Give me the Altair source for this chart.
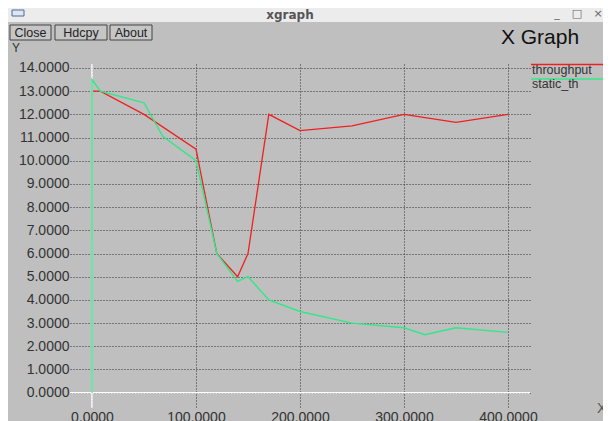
import altair as alt
import pandas as pd

# ---- data ----
thr_x = [0, 0, 8, 50, 100, 120, 140, 150, 170, 200, 250, 300, 350, 400]
thr_y = [6.6, 13.0, 13.0, 12.0, 10.5, 6.0, 5.0, 6.0, 12.0, 11.3, 11.5, 12.0, 11.65, 12.0]

sta_x = [0, 0, 8, 50, 68, 100, 120, 140, 150, 170, 200, 250, 300, 320, 350, 400]
sta_y = [0.0, 13.5, 13.0, 12.5, 11.05, 10.0, 6.0, 4.8, 5.0, 4.0, 3.5, 3.0, 2.8, 2.5, 2.8, 2.6]

x_ticks = [0, 100, 200, 300, 400]
y_ticks = list(range(0, 15))
series_names = ["throughput", "static_th"]
series_colors = ["#f02020", "#30e888"]

FONT = "Liberation Sans"
BG = "#bfbfbf"

thr = pd.DataFrame({"x": thr_x, "y": thr_y, "i": range(len(thr_x))})
sta = pd.DataFrame({"x": sta_x, "y": sta_y, "i": range(len(sta_x))})
zero = pd.DataFrame({"v": [0]})
one = pd.DataFrame({"a": [0]})

xscale = alt.Scale(domain=[-21.15, 421.15], nice=False, zero=False)
yscale = alt.Scale(domain=[-0.66, 14.17], nice=False, zero=False)

common = dict(title=None, domain=False, ticks=False, grid=True, gridColor="#2e2e2e",
              gridDash=[1, 2], gridWidth=1, labelFont=FONT, labelFontSize=14,
              labelColor="#333333", labelOverlap=False, labelFlush=False)
xaxis = alt.Axis(values=x_ticks, format=".4f", labelPadding=2, labelBaseline="top", **common)
yaxis = alt.Axis(values=y_ticks, format=".4f", labelPadding=1, **common)

# axes / grid layer
base = alt.Chart(thr).mark_point(opacity=0).encode(
    x=alt.X("x:Q", scale=xscale, axis=xaxis),
    y=alt.Y("y:Q", scale=yscale, axis=yaxis),
)

zero_h = alt.Chart(zero).mark_rule(color="white", strokeWidth=1.5).encode(
    y=alt.Y("v:Q", scale=yscale, axis=yaxis))
zero_v = alt.Chart(zero).mark_rule(color="white", strokeWidth=1.5).encode(
    x=alt.X("v:Q", scale=xscale, axis=xaxis))

line_thr = alt.Chart(thr).mark_line(color=series_colors[0], strokeWidth=1.3).encode(
    x=alt.X("x:Q", scale=xscale, axis=xaxis), y=alt.Y("y:Q", scale=yscale, axis=yaxis),
    order="i:Q")
line_sta = alt.Chart(sta).mark_line(color=series_colors[1], strokeWidth=1.4).encode(
    x=alt.X("x:Q", scale=xscale, axis=xaxis), y=alt.Y("y:Q", scale=yscale, axis=yaxis),
    order="i:Q")

# legend (xgraph style: line above the name)
leg = []
for k, (name, col) in enumerate(zip(series_names, series_colors)):
    leg.append(alt.Chart(one).mark_rule(color=col, strokeWidth=1.5).encode(
        x=alt.value(461), x2=alt.value(540), y=alt.value(0.5 + 14.5 * k)))
    leg.append(alt.Chart(one).mark_text(text=name, align="left", baseline="middle",
                                        font=FONT, fontSize=12.5, color="#333333").encode(
        x=alt.value(462), y=alt.value(6 + 14 * k)))

# window decorations
deco = []
deco.append(alt.Chart(one).mark_rect(fill="#ececec").encode(
    x=alt.value(-62), x2=alt.value(540), y=alt.value(-56), y2=alt.value(-42)))
deco.append(alt.Chart(one).mark_rect(fill="#dfe6f0", stroke="#4a6a9a", strokeWidth=1).encode(
    x=alt.value(-58), x2=alt.value(-46), y=alt.value(-54), y2=alt.value(-48)))
deco.append(alt.Chart(one).mark_text(text="xgraph", font="DejaVu Sans", fontWeight="bold",
                                     fontSize=12, color="#555555", baseline="middle").encode(
    x=alt.value(220), y=alt.value(-49)))
for t, xv in [("_", 487), ("□", 507), ("×", 528)]:
    deco.append(alt.Chart(one).mark_text(text=t, font="DejaVu Sans", fontSize=11,
                                         color="#666666", baseline="middle").encode(
        x=alt.value(xv), y=alt.value(-50)))
for t, x1, x2 in [("Close", -60, -19), ("Hdcpy", -15, 37), ("About", 40, 82)]:
    deco.append(alt.Chart(one).mark_rect(fill="#c6c6c6", stroke="#444444", strokeWidth=1).encode(
        x=alt.value(x1), x2=alt.value(x2), y=alt.value(-39), y2=alt.value(-24)))
    deco.append(alt.Chart(one).mark_text(text=t, font=FONT, fontSize=12.5, color="#222222",
                                         baseline="middle").encode(
        x=alt.value((x1 + x2) / 2), y=alt.value(-31)))
deco.append(alt.Chart(one).mark_text(text="X Graph", font=FONT, fontSize=21, color="#111111",
                                     baseline="middle").encode(
    x=alt.value(470), y=alt.value(-26)))
deco.append(alt.Chart(one).mark_text(text="Y", font=FONT, fontSize=12, color="#333333",
                                     baseline="middle", align="left").encode(
    x=alt.value(-58), y=alt.value(-16)))
deco.append(alt.Chart(one).mark_text(text="X", font=FONT, fontSize=14, color="#555555",
                                     baseline="middle", align="left").encode(
    x=alt.value(527), y=alt.value(345)))

chart = alt.layer(base, line_thr, zero_h, zero_v, line_sta, *leg, *deco).properties(
    width=460, height=344,
    padding={"left": 62, "top": 56, "right": 73, "bottom": 13},
    autosize=alt.AutoSizeParams(type="none"),
).configure(background=BG).configure_view(strokeWidth=0).configure_axis(
    labelOverlap=False, labelFlush=False)

chart.save("out.html", embed_options={"renderer": "svg", "actions": False})
